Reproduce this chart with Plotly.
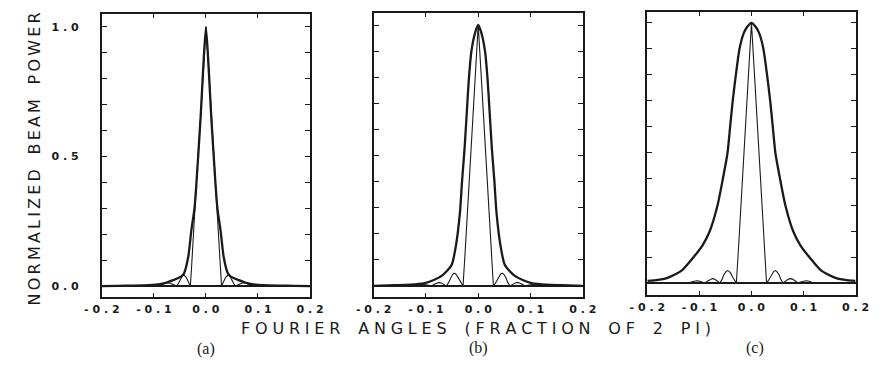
import plotly.graph_objects as go

# ---------------- data ----------------
# Panel (a)
x_a_thick = [-0.2, -0.17, -0.14, -0.11, -0.088, -0.075, -0.063, -0.052, -0.046, -0.042, -0.034, -0.028,
             -0.022, -0.0185, -0.010, -0.005, 0.0, 0.005, 0.010, 0.0185, 0.022, 0.028, 0.034, 0.042,
             0.046, 0.052, 0.063, 0.075, 0.088, 0.11, 0.14, 0.17, 0.2]
y_a_thick = [0.0, 0.001, 0.002, 0.004, 0.008, 0.014, 0.023, 0.032, 0.040, 0.050, 0.113, 0.216,
             0.30, 0.39, 0.66, 0.85, 1.0, 0.85, 0.66, 0.39, 0.30, 0.216, 0.113, 0.050,
             0.040, 0.032, 0.023, 0.014, 0.008, 0.004, 0.002, 0.001, 0.0]

x_a_thin = [-0.2, -0.117, -0.11, -0.103, -0.095, -0.088, -0.082, -0.076, -0.07, -0.063, -0.056, -0.052,
            -0.048, -0.045, -0.042, -0.038, -0.034, -0.030, -0.028, -0.025, -0.022, -0.0185, -0.010, -0.005,
            0.0, 0.005, 0.010, 0.0185, 0.022, 0.025, 0.028, 0.030, 0.034, 0.038, 0.042, 0.045,
            0.048, 0.052, 0.056, 0.063, 0.07, 0.076, 0.082, 0.088, 0.095, 0.103, 0.11, 0.117, 0.2]
y_a_thin = [0.0, 0.0, 0.003, 0.005, 0.003, 0.0, 0.007, 0.013, 0.012, 0.006, 0.0, 0.014,
            0.030, 0.040, 0.042, 0.034, 0.018, 0.0, 0.06, 0.17, 0.27, 0.39, 0.66, 0.85,
            1.0, 0.85, 0.66, 0.39, 0.27, 0.17, 0.06, 0.0, 0.018, 0.034, 0.042, 0.040,
            0.030, 0.014, 0.0, 0.006, 0.012, 0.013, 0.007, 0.0, 0.003, 0.005, 0.003, 0.0, 0.0]

# Panel (b)
x_b_thick = [-0.2, -0.16, -0.13, -0.104, -0.085, -0.068, -0.051, -0.043, -0.035, -0.031, -0.026, -0.022,
             -0.018, -0.013, -0.006, 0.0, 0.006, 0.013, 0.018, 0.022, 0.026, 0.031, 0.035, 0.043,
             0.051, 0.068, 0.085, 0.104, 0.13, 0.16, 0.2]
y_b_thick = [0.001, 0.003, 0.005, 0.010, 0.023, 0.042, 0.08, 0.15, 0.28, 0.40, 0.53, 0.66,
             0.79, 0.90, 0.97, 1.0, 0.97, 0.90, 0.79, 0.66, 0.53, 0.40, 0.28, 0.15,
             0.08, 0.042, 0.023, 0.010, 0.005, 0.003, 0.001]

x_b_thin = [-0.2, -0.12, -0.113, -0.105, -0.097, -0.089, -0.085, -0.079, -0.075, -0.071, -0.065, -0.061,
            -0.057, -0.053, -0.049, -0.046, -0.043, -0.040, -0.036, -0.032, -0.029,
            -0.025, -0.020, -0.015, -0.010, -0.005, 0.0,
            0.005, 0.010, 0.015, 0.020, 0.025,
            0.029, 0.032, 0.036, 0.040, 0.043, 0.046, 0.049, 0.053, 0.057, 0.061,
            0.065, 0.071, 0.075, 0.079, 0.085, 0.089, 0.097, 0.105, 0.113, 0.12, 0.2]
y_b_thin = [0.0, 0.0, 0.003, 0.006, 0.004, 0.0, 0.006, 0.012, 0.014, 0.012, 0.005, 0.0,
            0.012, 0.032, 0.045, 0.049, 0.046, 0.038, 0.022, 0.008, 0.0,
            0.13, 0.30, 0.47, 0.65, 0.83, 1.0,
            0.83, 0.65, 0.47, 0.30, 0.13,
            0.0, 0.008, 0.022, 0.038, 0.046, 0.049, 0.045, 0.032, 0.012, 0.0,
            0.005, 0.012, 0.014, 0.012, 0.006, 0.0, 0.004, 0.006, 0.003, 0.0, 0.0]

# Panel (c)
x_c_thick = [-0.2, -0.18, -0.164, -0.15, -0.133, -0.111, -0.094, -0.08, -0.065, -0.055, -0.046, -0.041,
             -0.036, -0.030, -0.023, -0.015, -0.008, 0.0, 0.008, 0.015, 0.023, 0.030, 0.036, 0.041,
             0.046, 0.055, 0.065, 0.08, 0.094, 0.111, 0.133, 0.15, 0.164, 0.18, 0.2]
y_c_thick = [0.008, 0.012, 0.018, 0.03, 0.05, 0.10, 0.145, 0.20, 0.30, 0.40, 0.50, 0.60,
             0.70, 0.80, 0.90, 0.96, 0.985, 1.0, 0.985, 0.96, 0.90, 0.80, 0.70, 0.60,
             0.50, 0.40, 0.30, 0.20, 0.145, 0.10, 0.05, 0.03, 0.018, 0.012, 0.008]

x_c_thin = [-0.2, -0.12, -0.116, -0.109, -0.105, -0.101, -0.094, -0.089, -0.085, -0.079, -0.075, -0.071,
            -0.065, -0.061, -0.057, -0.053, -0.049, -0.046, -0.043, -0.040, -0.036, -0.032, -0.029,
            -0.025, -0.020, -0.015, -0.010, -0.005, 0.0,
            0.005, 0.010, 0.015, 0.020, 0.025,
            0.029, 0.032, 0.036, 0.040, 0.043, 0.046, 0.049, 0.053, 0.057, 0.061,
            0.065, 0.071, 0.075, 0.079, 0.085, 0.089, 0.094, 0.101, 0.105, 0.109, 0.116, 0.12, 0.2]
y_c_thin = [0.0, 0.0, 0.004, 0.008, 0.009, 0.008, 0.004, 0.0, 0.007, 0.015, 0.017, 0.015,
            0.006, 0.0, 0.012, 0.032, 0.044, 0.048, 0.045, 0.038, 0.022, 0.008, 0.0,
            0.13, 0.30, 0.47, 0.65, 0.83, 1.0,
            0.83, 0.65, 0.47, 0.30, 0.13,
            0.0, 0.008, 0.022, 0.038, 0.045, 0.048, 0.044, 0.032, 0.012, 0.0,
            0.006, 0.015, 0.017, 0.015, 0.007, 0.0, 0.004, 0.008, 0.009, 0.008, 0.004, 0.0, 0.0]

x_tick_vals = [-0.2, -0.1, 0.0, 0.1, 0.2]
x_tick_text = ["-0.2", "-0.1", "0.0", "0.1", "0.2"]
y_tick_vals = [0.0, 0.1, 0.2, 0.3, 0.4, 0.5, 0.6, 0.7, 0.8, 0.9, 1.0]
y_tick_text = ["0.0", "", "", "", "", "0.5", "", "", "", "", "1.0"]
panel_labels = ["(a)", "(b)", "(c)"]
x_title = "FOURIER ANGLES (FRACTION OF 2 PI)"
y_title = "NORMALIZED BEAM POWER"

# ---------------- figure ----------------
W, H = 884, 367
INK = "#1a1a1a"
TS = "\u2009"
HS = "\u200a"


def spaced(s, sep):
    out = []
    for ch in s:
        out.append(ch if ch != " " else " " + TS)
    return sep.join(out)


panels = [
    dict(xt=x_a_thick, yt=y_a_thick, xn=x_a_thin, yn=y_a_thin, px=(87, 303), py=(14, 297), yr=(-0.042, 1.05)),
    dict(xt=x_b_thick, yt=y_b_thick, xn=x_b_thin, yn=y_b_thin, px=(369, 586), py=(13, 297), yr=(-0.042, 1.046)),
    dict(xt=x_c_thick, yt=y_c_thick, xn=x_c_thin, yn=y_c_thin, px=(653, 869), py=(12, 295), yr=(-0.046, 1.042)),
]
label_pos = [(195, 349), (478, 348), (765, 348)]
tickfont = dict(size=11, family="DejaVu Sans", color=INK, weight=600)

fig = go.Figure()
layout = dict(
    width=W, height=H, margin=dict(l=0, r=0, t=0, b=0),
    paper_bgcolor="white", plot_bgcolor="white", showlegend=False,
    font=dict(family="DejaVu Sans", color=INK),
)
annotations = []

for i, p in enumerate(panels):
    sx = "" if i == 0 else str(i + 1)
    xa, ya = "x" + sx, "y" + sx
    fig.add_trace(go.Scatter(x=p["xn"], y=p["yn"], mode="lines", xaxis=xa, yaxis=ya,
                             line=dict(color=INK, width=1.1), hoverinfo="skip"))
    fig.add_trace(go.Scatter(x=p["xt"], y=p["yt"], mode="lines", xaxis=xa, yaxis=ya,
                             line=dict(color=INK, width=2.3, shape="spline", smoothing=0.6),
                             hoverinfo="skip"))
    layout["xaxis" + sx] = dict(
        domain=[p["px"][0] / W, p["px"][1] / W], range=[-0.2, 0.2], anchor=ya,
        showgrid=False, zeroline=False, showline=True, linecolor=INK, linewidth=1.8, mirror="ticks",
        ticks="inside", ticklen=4, tickwidth=1.3, tickcolor=INK,
        tickvals=x_tick_vals, ticktext=[" ".join(list(t)) for t in x_tick_text],
        tickfont=tickfont, ticklabelstandoff=1,
    )
    layout["yaxis" + sx] = dict(
        domain=[1 - p["py"][1] / H, 1 - p["py"][0] / H], range=list(p["yr"]), anchor=xa,
        showgrid=False, zeroline=True, zerolinecolor=INK, zerolinewidth=2.0,
        showline=True, linecolor=INK, linewidth=1.8, mirror="ticks",
        ticks="inside", ticklen=5, tickwidth=1.3, tickcolor=INK,
        tickvals=y_tick_vals,
        ticktext=[" ".join(list(t)) for t in y_tick_text] if i == 0 else [""] * len(y_tick_vals),
        showticklabels=(i == 0),
        tickfont=tickfont, ticklabelstandoff=19,
    )
    lx, ly = label_pos[i]
    annotations.append(dict(text=panel_labels[i], x=lx / W, y=1 - ly / H, xref="paper", yref="paper",
                            showarrow=False, xanchor="center", yanchor="middle",
                            font=dict(family="Liberation Serif", size=16, color=INK)))

annotations.append(dict(text=spaced(x_title, TS + HS), x=475 / W, y=1 - 328 / H, xref="paper", yref="paper",
                        showarrow=False, xanchor="center", yanchor="middle",
                        font=dict(family="DejaVu Sans", size=16, color=INK)))
annotations.append(dict(text=spaced(y_title, TS), x=17 / W, y=1 - 159 / H, xref="paper", yref="paper",
                        showarrow=False, xanchor="center", yanchor="middle", textangle=-90,
                        font=dict(family="DejaVu Sans", size=16, color=INK)))
layout["annotations"] = annotations
fig.update_layout(**layout)
fig.write_html("out.html")
